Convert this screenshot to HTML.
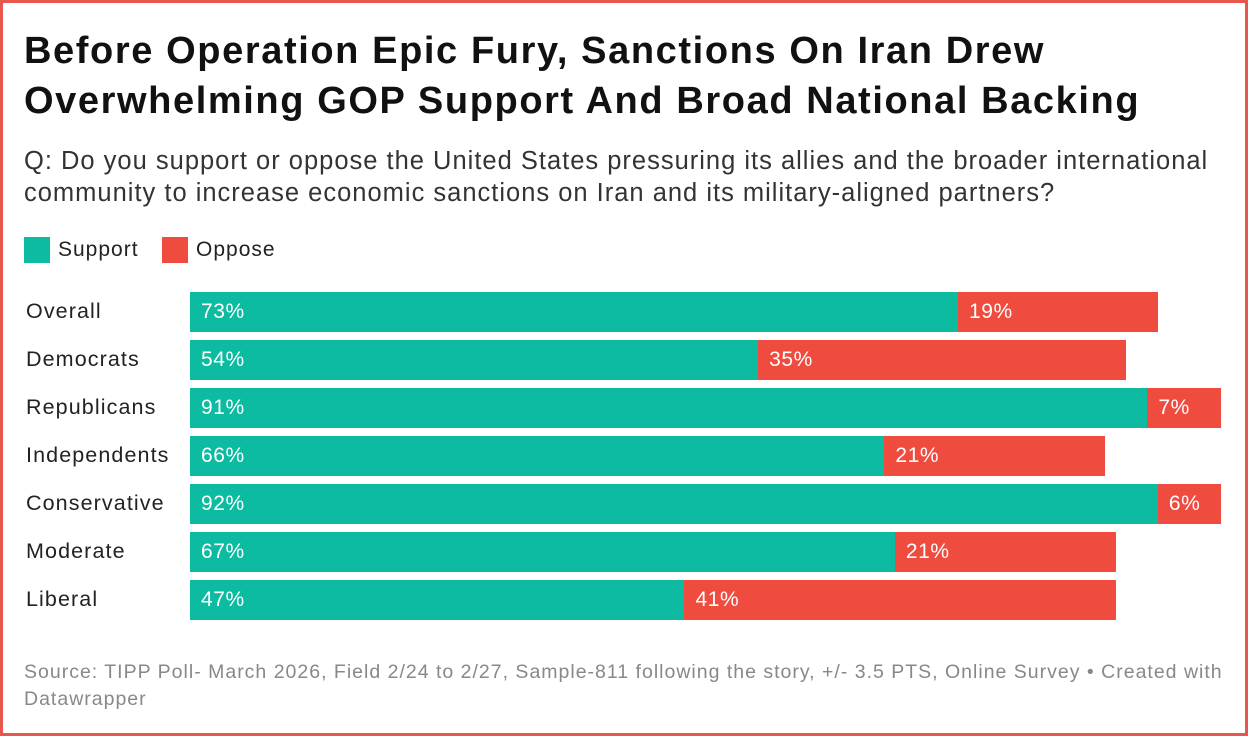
<!DOCTYPE html>
<html><head><meta charset="utf-8"><style>
body{margin:0;width:1248px;height:736px;overflow:hidden;background:#fff;font-family:"Liberation Sans",Arial,sans-serif;}
#frame{position:absolute;left:0;top:0;width:1242px;height:730px;border:3px solid #e8574d;}
.t{position:absolute;left:24px;white-space:nowrap;}
</style></head><body>
<div id="frame"></div>
<div class="t" style="top:26px;font-size:38px;letter-spacing:1.6px;font-weight:bold;line-height:50px;color:#111;">Before Operation Epic Fury, Sanctions On Iran Drew<br>Overwhelming GOP Support And Broad National Backing</div>
<div class="t" style="top:145px;font-size:25.5px;letter-spacing:1px;line-height:32px;color:#333;">Q: Do you support or oppose the United States pressuring its allies and the broader international<br>community to increase economic sanctions on Iran and its military-aligned partners?</div>
<div class="t" style="top:237px;font-size:21px;letter-spacing:1px;line-height:26px;color:#222;"><span style="display:inline-block;width:26px;height:26px;background:#0dbba1;vertical-align:top;margin-right:8px"></span>Support</div>
<div class="t" style="left:162px;top:237px;font-size:21px;letter-spacing:1px;line-height:26px;color:#222;"><span style="display:inline-block;width:26px;height:26px;background:#f04b3f;vertical-align:top;margin-right:8px"></span>Oppose</div>
<div id="chart"></div>
<div class="t" style="top:659px;font-size:19.5px;letter-spacing:1px;line-height:27px;color:#888;">Source: TIPP Poll- March 2026, Field 2/24 to 2/27, Sample-811 following the story, +/- 3.5 PTS, Online Survey • Created with<br>Datawrapper</div>
<script>
const categories=["Overall","Democrats","Republicans","Independents","Conservative","Moderate","Liberal"];
const support=[73,54,91,66,92,67,47];
const oppose=[19,35,7,21,6,21,41];
const x0=190,scale=10.52,y0=292,step=48,h=40;
const xs=v=>v*scale;
const c=document.getElementById('chart');
categories.forEach((cat,i)=>{
 const y=y0+i*step;
 const l=document.createElement('div');
 
 
 l.className='t';l.style.cssText=`left:26px;top:${y}px;height:${h}px;line-height:38px;font-size:21.5px;letter-spacing:1.1px;color:#222;`;
 l.textContent=cat;c.appendChild(l);
 const s=document.createElement('div');
 
 
 s.style.cssText=`position:absolute;left:${x0}px;top:${y}px;width:${xs(support[i])}px;height:${h}px;background:#0dbba1;color:#fff;font-size:21px;letter-spacing:0.6px;line-height:40px;box-sizing:border-box;padding-left:11px;`;
 s.textContent=support[i]+'%';c.appendChild(s);
 const o=document.createElement('div');
 
 
 o.style.cssText=`position:absolute;left:${x0+xs(support[i])}px;top:${y}px;width:${xs(oppose[i])}px;height:${h}px;background:#f04b3f;color:#fff;font-size:21px;letter-spacing:0.6px;line-height:40px;box-sizing:border-box;padding-left:11px;white-space:nowrap;`;
 o.textContent=oppose[i]+'%';c.appendChild(o);
});
</script>
</body></html>
